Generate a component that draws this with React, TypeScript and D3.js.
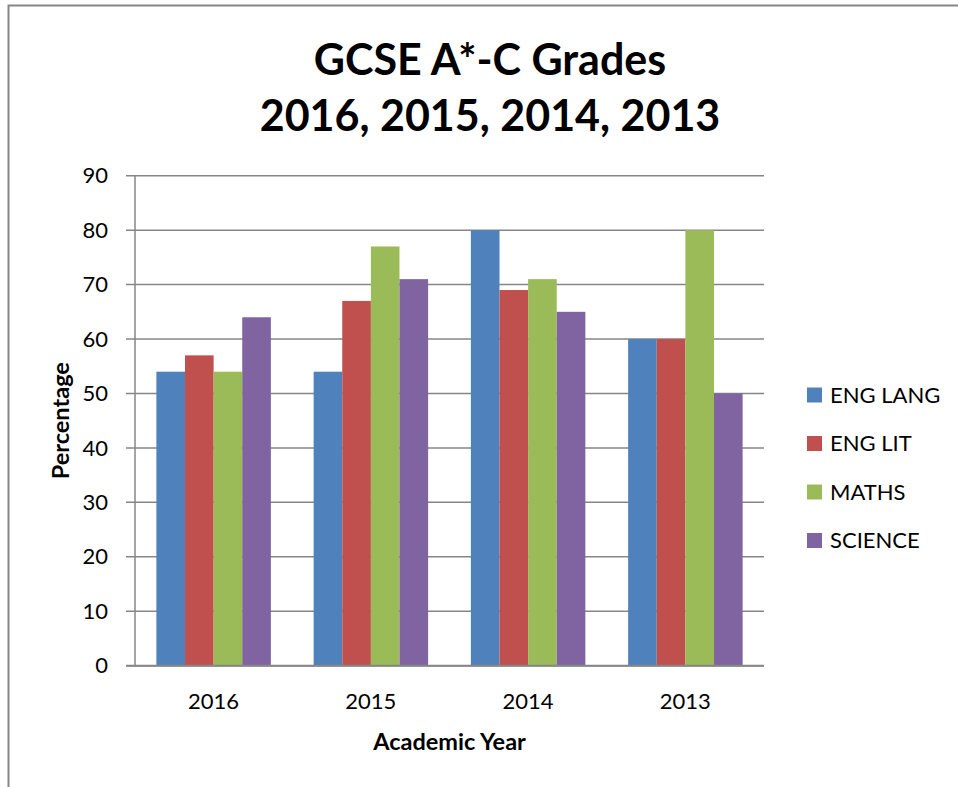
import React, { useRef, useEffect } from 'react';
import * as d3 from 'd3';

const years = ['2016', '2015', '2014', '2013'];
const subjects = ['ENG LANG', 'ENG LIT', 'MATHS', 'SCIENCE'];
const engLang = [54, 54, 80, 60];
const engLit = [57, 67, 69, 60];
const maths = [54, 77, 71, 80];
const science = [64, 71, 65, 50];
const yTicks = [0, 10, 20, 30, 40, 50, 60, 70, 80, 90];
const colors = ['#4F81BD', '#C0504D', '#9BBB59', '#8064A2'];

const font = 'Lato, "Open Sans", sans-serif';

const App = () => {
    const svgRef = useRef<SVGSVGElement>(null);

    useEffect(() => {
        const svg = d3.select(svgRef.current);
        svg.selectAll('*').remove();

        const series = [engLang, engLit, maths, science];
        const margin = { top: 175.7, left: 135, right: 194, bottom: 121.3 };
        const width = 958 - margin.left - margin.right;
        const height = 787 - margin.top - margin.bottom;
        const grey = '#868686';

        // outer chart frame
        svg.append('rect')
            .attr('x', 8.5).attr('y', 5.5)
            .attr('width', 1000).attr('height', 1000)
            .attr('fill', 'white')
            .attr('stroke', grey).attr('stroke-width', 2);

        const title = svg.append('text')
            .attr('text-anchor', 'middle')
            .attr('font-family', font)
            .attr('font-weight', 'bold')
            .attr('font-size', 43)
            .attr('fill', 'black');
        title.append('tspan').attr('x', 490).attr('y', 75).text('GCSE A*-C Grades');
        title.append('tspan').attr('x', 490).attr('y', 131).text('2016, 2015, 2014, 2013');

        const g = svg.append('g')
            .attr('transform', `translate(${margin.left},${margin.top})`);

        const x0 = d3.scaleBand().domain(years).range([0, width]).paddingInner(0.272).paddingOuter(0.136);
        const x1 = d3.scaleBand().domain(subjects).range([0, x0.bandwidth()]);
        const y = d3.scaleLinear().domain([0, 90]).range([height, 0]);
        const xOuter = d3.scaleBand().domain(years).range([0, width]);

        // gridlines
        g.selectAll('.grid')
            .data(yTicks)
            .enter().append('line')
            .attr('x1', -9).attr('x2', width)
            .attr('y1', d => y(d)).attr('y2', d => y(d))
            .attr('stroke', grey).attr('stroke-width', 1.5);

        g.selectAll('.ylab')
            .data(yTicks)
            .enter().append('text')
            .attr('x', -27).attr('y', d => y(d))
            .attr('dy', '0.35em')
            .attr('text-anchor', 'end')
            .attr('font-family', font)
            .attr('font-size', 22)
            .text(d => d);

        // bars
        years.forEach((yr, i) => {
            g.selectAll(`.bar${i}`)
                .data(series.map((s, j) => ({ key: subjects[j], value: s[i], color: colors[j] })))
                .enter().append('rect')
                .attr('x', d => (x0(yr) || 0) + (x1(d.key) || 0))
                .attr('y', d => y(d.value))
                .attr('width', x1.bandwidth())
                .attr('height', d => height - y(d.value))
                .attr('fill', d => d.color);
        });

        // axes lines
        g.append('line')
            .attr('x1', 0).attr('x2', 0).attr('y1', 0).attr('y2', height)
            .attr('stroke', grey).attr('stroke-width', 1.5);
        g.append('line')
            .attr('x1', -9).attr('x2', width).attr('y1', height).attr('y2', height)
            .attr('stroke', grey).attr('stroke-width', 2);

        g.selectAll('.xlab')
            .data(years)
            .enter().append('text')
            .attr('x', d => (xOuter(d) || 0) + xOuter.bandwidth() / 2)
            .attr('y', height + 43)
            .attr('text-anchor', 'middle')
            .attr('font-family', font)
            .attr('font-size', 22)
            .text(d => d);

        g.append('text')
            .attr('x', width / 2).attr('y', height + 84)
            .attr('text-anchor', 'middle')
            .attr('font-family', font)
            .attr('font-weight', 'bold')
            .attr('font-size', 23.5)
            .text('Academic Year');

        g.append('text')
            .attr('transform', `translate(-66,${height / 2}) rotate(-90)`)
            .attr('text-anchor', 'middle')
            .attr('font-family', font)
            .attr('font-weight', 'bold')
            .attr('font-size', 23.5)
            .text('Percentage');

        // legend
        const legend = svg.append('g').attr('transform', 'translate(807,395)');
        const rows = legend.selectAll('.lg')
            .data(subjects)
            .enter().append('g')
            .attr('transform', (d, i) => `translate(0,${i * 48.5})`);
        rows.append('rect')
            .attr('x', 0).attr('y', -7.5)
            .attr('width', 15).attr('height', 15)
            .attr('fill', (d, i) => colors[i]);
        rows.append('text')
            .attr('x', 23).attr('dy', '0.35em')
            .attr('font-family', font)
            .attr('font-size', 22)
            .text(d => d);
    }, []);

    return (
        <svg ref={svgRef} width={958} height={787}
            style={{ position: 'absolute', left: 0, top: 0, background: 'white' }} />
    );
};

export default App;
